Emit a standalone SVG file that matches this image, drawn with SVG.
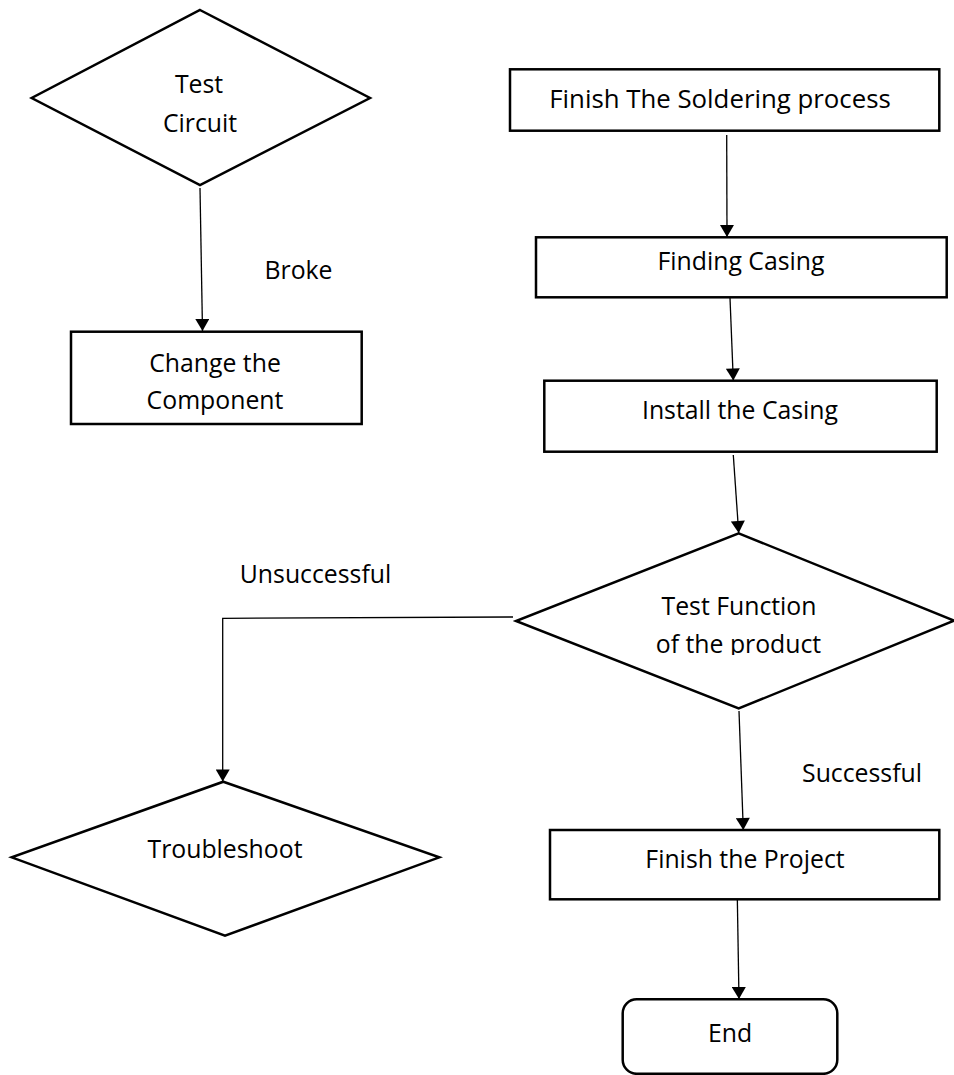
<svg xmlns="http://www.w3.org/2000/svg" width="954" height="1075" viewBox="0 0 954 1075">
<style>
.shape{fill:#fff;stroke:#000;stroke-width:2.5;stroke-linejoin:miter}
.lbl{font-family:"Open Sans","Liberation Sans",sans-serif;font-size:24.8px;fill:#000;text-anchor:middle}
.small{font-size:25.8px}
.conn{fill:none;stroke:#000;stroke-width:1.3}
</style>
<defs>
<marker id="arrow" markerUnits="userSpaceOnUse" markerWidth="14" markerHeight="14" viewBox="0 0 12 14" refX="12" refY="7" orient="auto">
<path d="M0,0 L12,7 L0,14 Z" fill="#000"/>
</marker>
<clipPath id="clipTF"><rect x="500" y="560" width="454" height="95"/></clipPath>
</defs>
<rect width="954" height="1075" fill="#fff"/>
<g id="connectors">
<line class="conn" x1="200" y1="188" x2="202.5" y2="331" marker-end="url(#arrow)"/>
<line class="conn" x1="726.7" y1="135" x2="727" y2="237" marker-end="url(#arrow)"/>
<line class="conn" x1="730" y1="298" x2="733.3" y2="380.5" marker-end="url(#arrow)"/>
<line class="conn" x1="733.3" y1="455" x2="738.7" y2="533" marker-end="url(#arrow)"/>
<polyline class="conn" points="513,617 222.7,618.3 222.7,781.5" marker-end="url(#arrow)"/>
<line class="conn" x1="739" y1="711" x2="743.3" y2="830" marker-end="url(#arrow)"/>
<line class="conn" x1="737.3" y1="897" x2="739" y2="999" marker-end="url(#arrow)"/>
<text class="lbl" x="298.5" y="279">Broke</text>
<text class="lbl" x="315.5" y="583">Unsuccessful</text>
<text class="lbl" x="862" y="782">Successful</text>
</g>
<g id="test-circuit">
<polygon class="shape" points="200,10 370,98 200,185 31.7,98"/>
<text class="lbl" x="199" y="93">Test</text>
<text class="lbl" x="200" y="132">Circuit</text>
</g>
<g id="change-component">
<rect class="shape" x="71" y="331.7" width="290.7" height="92.3"/>
<text class="lbl" x="215" y="372">Change the</text>
<text class="lbl" x="215" y="409">Component</text>
</g>
<g id="finish-soldering">
<rect class="shape" x="510" y="69.3" width="429.3" height="61.4"/>
<text class="lbl small" x="720" y="108">Finish The Soldering process</text>
</g>
<g id="finding-casing">
<rect class="shape" x="536" y="237.3" width="410.7" height="60"/>
<text class="lbl" x="741" y="270">Finding Casing</text>
</g>
<g id="install-casing">
<rect class="shape" x="544.3" y="380.7" width="392.4" height="71"/>
<text class="lbl" x="740" y="419">Install the Casing</text>
</g>
<g id="test-function">
<polygon class="shape" points="738.7,533.3 954,620.7 738.7,708.5 516,621"/>
<g clip-path="url(#clipTF)">
<text class="lbl" x="739" y="615">Test Function</text>
<text class="lbl" x="738.5" y="653">of the product</text>
</g>
</g>
<g id="troubleshoot">
<polygon class="shape" points="223.3,781.7 439.3,857.3 225,935.7 11.7,857.3"/>
<text class="lbl" x="225" y="858">Troubleshoot</text>
</g>
<g id="finish-project">
<rect class="shape" x="550" y="830" width="389.3" height="69.3"/>
<text class="lbl" x="745" y="868">Finish the Project</text>
</g>
<g id="end">
<rect class="shape" x="622.7" y="999.3" width="214.6" height="74.5" rx="14" ry="14"/>
<text class="lbl" x="730" y="1042">End</text>
</g>
</svg>
